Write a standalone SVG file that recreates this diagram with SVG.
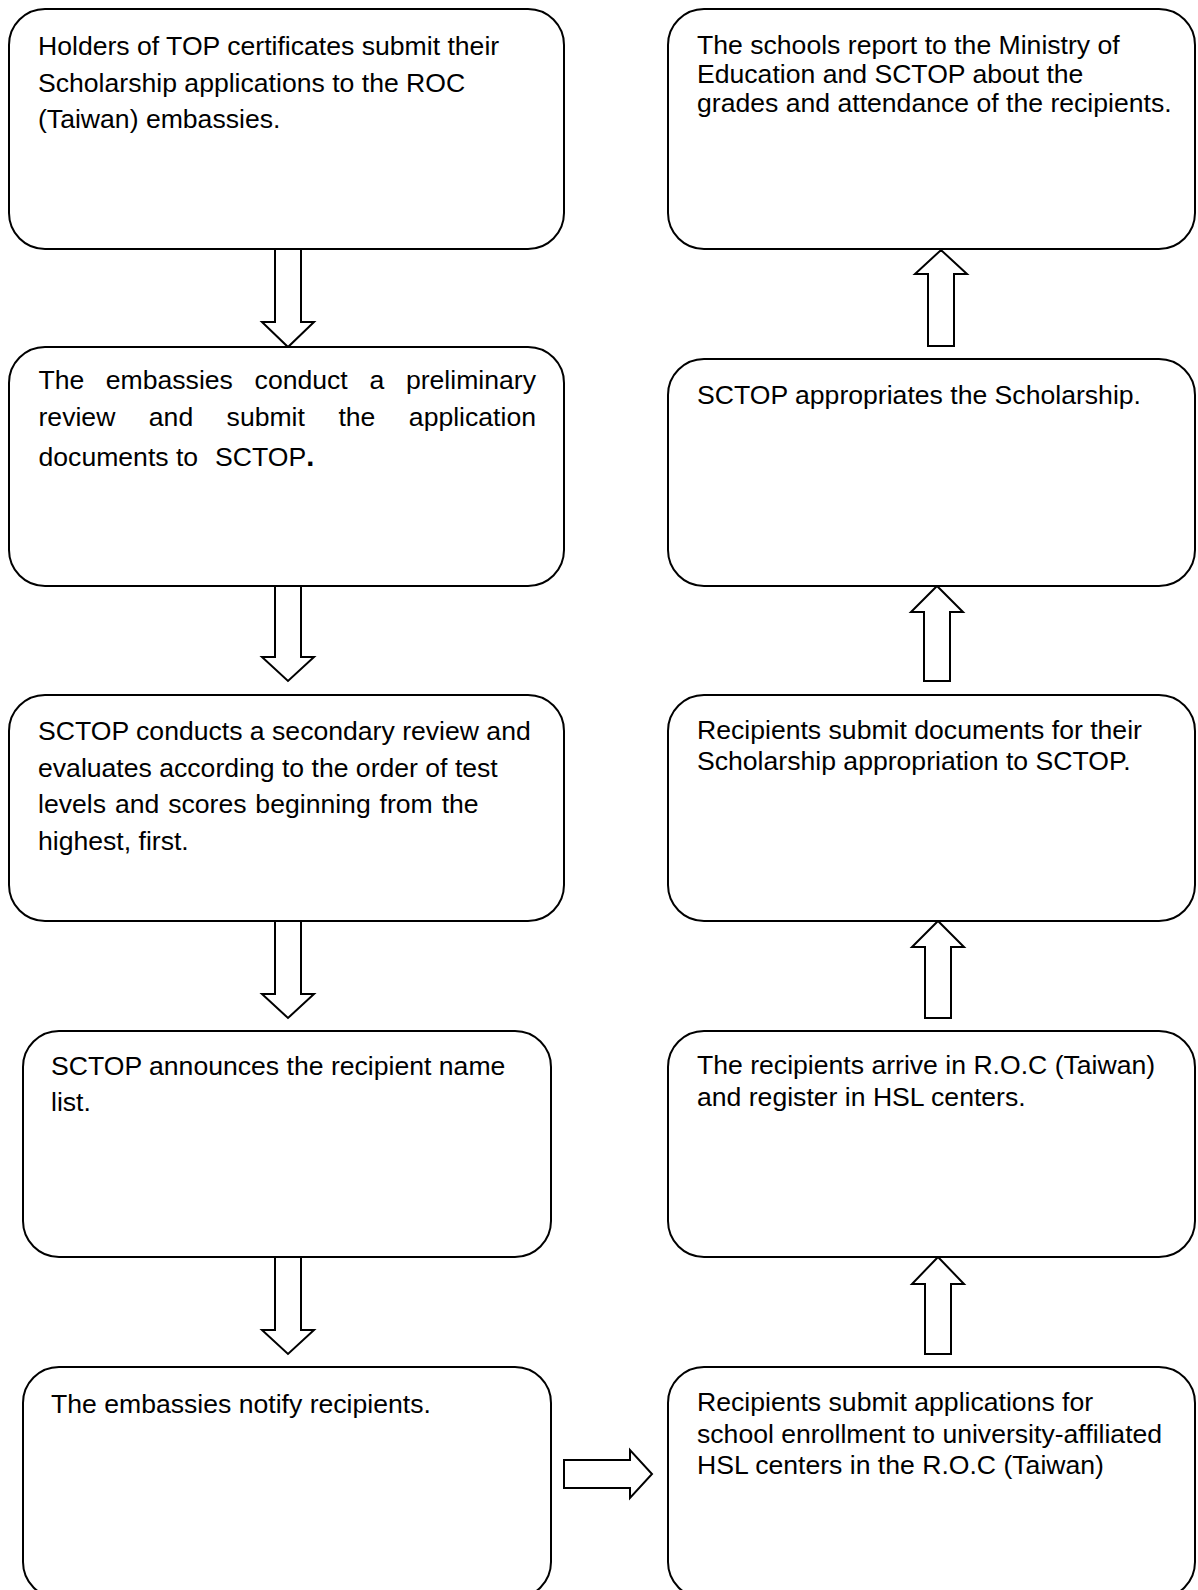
<svg xmlns="http://www.w3.org/2000/svg" width="1198" height="1590" viewBox="0 0 1198 1590">
<style>
.box{fill:#fff;stroke:#000;stroke-width:2}
.arr{fill:#fff;stroke:#000;stroke-width:2;stroke-linejoin:miter}
.t{font-family:"Liberation Sans",Arial,sans-serif;font-size:26.6px;fill:#000}
</style>
<rect width="1198" height="1590" fill="#fff"/>
<g id="connectors">
<polygon class="arr" points="275,249 301,249 301,322 314,322 288,347 262,322 275,322"/>
<polygon class="arr" points="275,586 301,586 301,657 314,657 288,681 262,657 275,657"/>
<polygon class="arr" points="275,921 301,921 301,994 314,994 288,1018 262,994 275,994"/>
<polygon class="arr" points="275,1257 301,1257 301,1330 314,1330 288,1354 262,1330 275,1330"/>
<polygon class="arr" points="564,1460 630,1460 630,1450 652,1474 630,1498 630,1488 564,1488"/>
<polygon class="arr" points="925,1354 951,1354 951,1284 964,1284 938,1257 912,1284 925,1284"/>
<polygon class="arr" points="925,1018 951,1018 951,947 964,947 938,921 912,947 925,947"/>
<polygon class="arr" points="924,681 950,681 950,612 963,612 937,586 911,612 924,612"/>
<polygon class="arr" points="928,346 954,346 954,274 967,274 941,250 915,274 928,274"/>
</g>
<g id="n1">
<rect class="box" x="9" y="9" width="555" height="240" rx="36"/>
<text class="t" x="38" y="55">Holders of TOP certificates submit their</text>
<text class="t" x="38" y="91.5">Scholarship applications to the ROC</text>
<text class="t" x="38" y="128">(Taiwan) embassies.</text>
</g>
<g id="n2">
<rect class="box" x="9" y="347" width="555" height="239" rx="36"/>
<text class="t" y="389"><tspan x="38.5">The</tspan><tspan x="105.8">embassies</tspan><tspan x="254.6">conduct</tspan><tspan x="369.4">a</tspan><tspan x="536" text-anchor="end">preliminary</tspan></text>
<text class="t" y="426"><tspan x="38.5">review</tspan><tspan x="148.8">and</tspan><tspan x="226.6">submit</tspan><tspan x="338.4">the</tspan><tspan x="536" text-anchor="end">application</tspan></text>
<text class="t" y="466"><tspan x="38.5">documents to</tspan><tspan x="215">SCTOP</tspan><tspan font-weight="bold" font-size="29px">.</tspan></text>
</g>
<g id="n3">
<rect class="box" x="9" y="695" width="555" height="226" rx="36"/>
<text class="t" x="38" y="740">SCTOP conducts a secondary review and</text>
<text class="t" x="38" y="776.5">evaluates according to the order of test</text>
<text class="t" x="38" y="813" word-spacing="1.5">levels and scores beginning from the</text>
<text class="t" x="38" y="849.5">highest, first.</text>
</g>
<g id="n4">
<rect class="box" x="23" y="1031" width="528" height="226" rx="36"/>
<text class="t" x="51" y="1075">SCTOP announces the recipient name</text>
<text class="t" x="51" y="1110.5">list.</text>
</g>
<g id="n5">
<rect class="box" x="23" y="1367" width="528" height="231" rx="36"/>
<text class="t" x="51" y="1413">The embassies notify recipients.</text>
</g>
<g id="n6">
<rect class="box" x="668" y="9" width="527" height="240" rx="36"/>
<text class="t" x="697" y="54">The schools report to the Ministry of</text>
<text class="t" x="697" y="83">Education and SCTOP about the</text>
<text class="t" x="697" y="112">grades and attendance of the recipients.</text>
</g>
<g id="n7">
<rect class="box" x="668" y="359" width="527" height="227" rx="36"/>
<text class="t" x="697" y="403.5">SCTOP appropriates the Scholarship.</text>
</g>
<g id="n8">
<rect class="box" x="668" y="695" width="527" height="226" rx="36"/>
<text class="t" x="697" y="739">Recipients submit documents for their</text>
<text class="t" x="697" y="769.5">Scholarship appropriation to SCTOP.</text>
</g>
<g id="n9">
<rect class="box" x="668" y="1031" width="527" height="226" rx="36"/>
<text class="t" x="697" y="1074">The recipients arrive in R.O.C (Taiwan)</text>
<text class="t" x="697" y="1105.5">and register in HSL centers.</text>
</g>
<g id="n10">
<rect class="box" x="668" y="1367" width="527" height="231" rx="36"/>
<text class="t" x="697" y="1411">Recipients submit applications for</text>
<text class="t" x="697" y="1442.5">school enrollment to university-affiliated</text>
<text class="t" x="697" y="1474">HSL centers in the R.O.C (Taiwan)</text>
</g>
</svg>
